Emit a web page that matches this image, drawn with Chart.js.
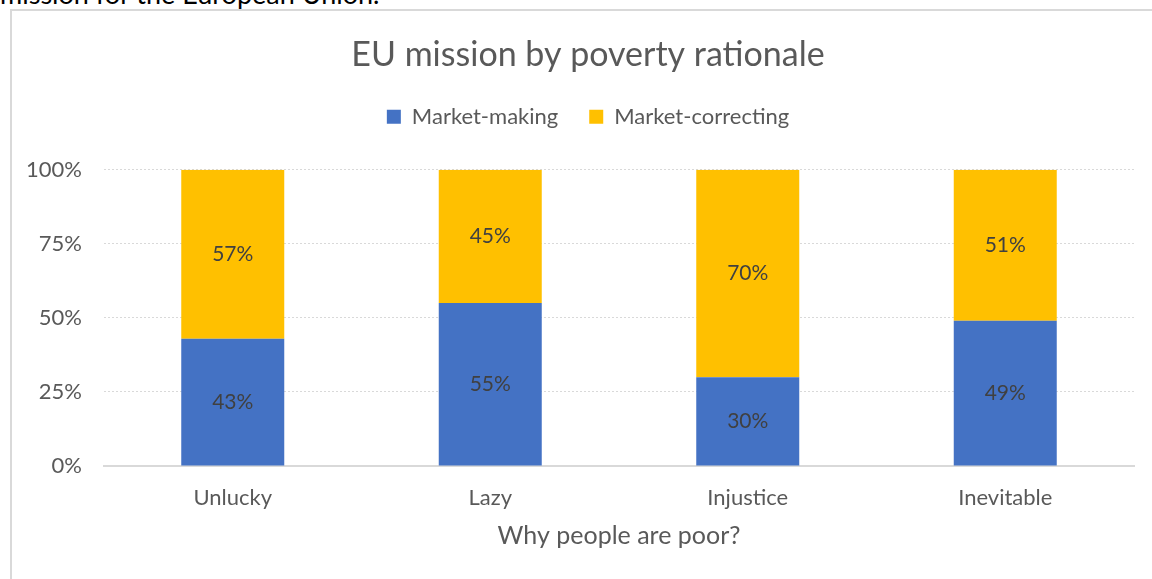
<!DOCTYPE html>
<html>
<head>
<meta charset="utf-8">
<script src="https://cdn.jsdelivr.net/npm/chart.js@4.4.1/dist/chart.umd.min.js"></script>
<style>
  html, body { margin: 0; padding: 0; background: #fff; overflow: hidden; }
  body { width: 1152px; height: 579px; position: relative; font-family: Lato, "Noto Sans", sans-serif; }
  #docline { position: absolute; left: 0; top: -22px; font-size: 27px; line-height: 1.2; color: #000; white-space: nowrap; }
  #frame { position: absolute; left: 10px; top: 9px; width: 1180px; height: 600px; border: 2px solid #d9d9d9; background: #fff; }
  #wrap { position: absolute; left: 0; top: 0; width: 1152px; height: 568px; }
</style>
</head>
<body>
<div id="docline">mission for the European Union.</div>
<div id="frame"><div id="wrap"><canvas id="myChart"></canvas></div></div>
<script>
const categories = ['Unlucky', 'Lazy', 'Injustice', 'Inevitable'];
const marketMaking = [43, 55, 30, 49];
const marketCorrecting = [57, 45, 70, 51];
const yTicks = [0, 25, 50, 75, 100];

const grey = '#595959';
const fontFamily = 'Lato, "Noto Sans", sans-serif';

// value labels centred in each stacked segment
const segmentLabels = {
    id: 'segmentLabels',
    afterDatasetsDraw(chart) {
        const ctx = chart.ctx;
        ctx.save();
        ctx.font = '21px ' + fontFamily;
        ctx.fillStyle = '#404040';
        ctx.textAlign = 'center';
        ctx.textBaseline = 'middle';
        chart.data.datasets.forEach(function(ds, i) {
            chart.getDatasetMeta(i).data.forEach(function(bar, j) {
                const mid = (bar.y + bar.base) / 2;
                ctx.fillText(ds.data[j] + '%', bar.x, mid);
            });
        });
        ctx.restore();
    }
};

// extra room between the legend and the plot
const legendGap = {
    id: 'legendGap',
    beforeLayout(chart) {
        const legend = chart.legend;
        if (!legend || legend._gapPatched) return;
        const fit = legend.fit;
        legend.fit = function() {
            fit.call(this);
            this.height += 32;
        };
        legend._gapPatched = true;
    }
};

document.addEventListener('DOMContentLoaded', function() {
    const myChart = document.getElementById('myChart');
    new Chart(myChart, {
        type: 'bar',
        data: {
            labels: categories,
            datasets: [
                { label: 'Market-making', data: marketMaking, backgroundColor: '#4472C4' },
                { label: 'Market-correcting', data: marketCorrecting, backgroundColor: '#FFC000' }
            ]
        },
        plugins: [segmentLabels, legendGap],
        options: {
            responsive: true,
            maintainAspectRatio: false,
            animation: false,
            layout: { padding: { left: 0, right: 0, top: 0, bottom: 28 } },
            datasets: { bar: { categoryPercentage: 1, barPercentage: 0.4 } },
            plugins: {
                title: {
                    display: true,
                    text: 'EU mission by poverty rationale',
                    color: grey,
                    font: { family: fontFamily, size: 34, weight: 'normal' },
                    padding: { top: 24, bottom: -1 }
                },
                legend: {
                    labels: {
                        color: grey,
                        font: { family: fontFamily, size: 22 },
                        boxWidth: 14,
                        boxHeight: 14,
                        padding: 31
                    }
                },
                tooltip: { enabled: false }
            },
            scales: {
                x: {
                    stacked: true,
                    afterFit: function(scale) { scale.height = 85; },
                    grid: { display: false, drawTicks: false },
                    border: { color: '#d9d9d9', width: 2 },
                    ticks: { color: grey, font: { family: fontFamily, size: 22 }, padding: 19 },
                    title: {
                        display: true,
                        text: 'Why people are poor?',
                        color: grey,
                        font: { family: fontFamily, size: 25 },
                        padding: { top: 10, bottom: 0 }
                    }
                },
                y: {
                    stacked: true,
                    min: 0,
                    max: 100,
                    afterFit: function(scale) { scale.width = 92; },
                    afterBuildTicks: function(scale) {
                        scale.ticks = yTicks.map(function(v) { return { value: v }; });
                    },
                    grid: { color: '#d9d9d9', drawTicks: false },
                    border: { display: false, dash: [2, 2] },
                    ticks: {
                        color: grey,
                        font: { family: fontFamily, size: 22 },
                        padding: 22,
                        callback: function(v) { return v + '%'; }
                    }
                },
                // empty strip on the right so the plot stops short of the frame
                yRight: {
                    position: 'right',
                    afterFit: function(scale) { scale.width = 30; },
                    grid: { display: false, drawTicks: false },
                    border: { display: false },
                    ticks: { display: false }
                }
            }
        }
    });
});
</script>
</body>
</html>
